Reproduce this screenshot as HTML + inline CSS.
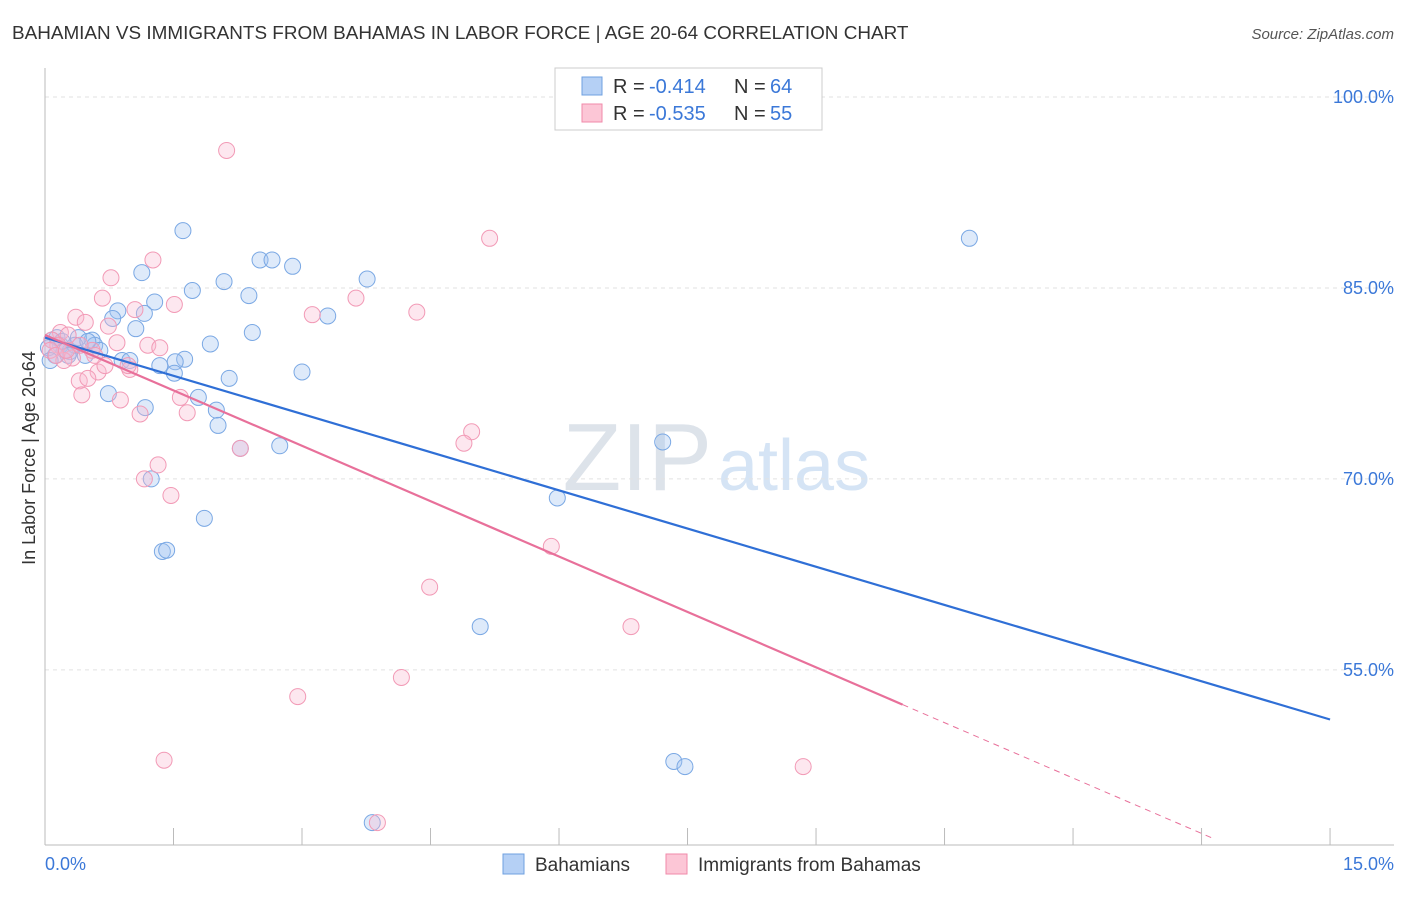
<!DOCTYPE html>
<html><head><meta charset="utf-8"><style>
body{margin:0;background:#fff;font-family:"Liberation Sans",sans-serif;}
svg text{font-family:"Liberation Sans",sans-serif;}
</style></head><body>
<svg id="c" width="1406" height="892" xmlns="http://www.w3.org/2000/svg">
<text x="12" y="39" font-size="18.9" fill="#333">BAHAMIAN VS IMMIGRANTS FROM BAHAMAS IN LABOR FORCE | AGE 20-64 CORRELATION CHART</text>
<text x="1394" y="39" font-size="15" fill="#555" font-style="italic" text-anchor="end">Source: ZipAtlas.com</text>
<text x="712" y="490" font-size="96" fill="#dde3ea" text-anchor="end" font-family="Liberation Serif">ZIP</text>
<text x="718" y="490" font-size="72" fill="#d5e4f5">atlas</text>
<text x="35" y="458" font-size="18" fill="#333" text-anchor="middle" transform="rotate(-90 35 458)">In Labor Force | Age 20-64</text>
<g id="grid"></g><g id="pts"></g><g id="lines"></g>
<g>
<rect x="555" y="68" width="267" height="62" fill="#fff" stroke="#ccc"/>
<rect x="582" y="77" width="20" height="18" fill="#b5d0f5" stroke="#6fa0e0"/>
<rect x="582" y="104" width="20" height="18" fill="#fcc6d6" stroke="#f08aaa"/>
<text x="613" y="93" font-size="20" fill="#333">R =</text>
<text x="649" y="93" font-size="20" fill="#3b78d8">-0.414</text>
<text x="734" y="93" font-size="20" fill="#333">N =</text>
<text x="770" y="93" font-size="20" fill="#3b78d8">64</text>
<text x="613" y="120" font-size="20" fill="#333">R =</text>
<text x="649" y="120" font-size="20" fill="#3b78d8">-0.535</text>
<text x="734" y="120" font-size="20" fill="#333">N =</text>
<text x="770" y="120" font-size="20" fill="#3b78d8">55</text>
</g>
<g>
<rect x="503" y="854" width="21" height="20" fill="#b5d0f5" stroke="#6fa0e0"/>
<text x="535" y="871" font-size="19" fill="#333">Bahamians</text>
<rect x="666" y="854" width="21" height="20" fill="#fcc6d6" stroke="#f08aaa"/>
<text x="698" y="871" font-size="19" fill="#333">Immigrants from Bahamas</text>
</g>
</svg>
<script>
const yTicks=[100,85,70,55];
const yTickLabels=["100.0%","85.0%","70.0%","55.0%"];
const xTickLabels=["0.0%","15.0%"];
const blueX=[1.61,1.13,2.51,2.65,2.89,3.76,2.09,1.72,1.28,2.38,0.85,1.16,0.79,1.06,2.42,3.30,0.55,0.39,0.58,1.93,1.63,1.34,1.52,0.90,1.51,2.15,3.00,0.74,1.79,1.17,2.00,2.02,2.74,2.28,7.21,5.98,1.24,1.86,1.37,1.42,5.08,7.34,7.47,3.82,10.79,0.08,0.18,0.23,0.12,0.04,0.29,0.47,0.64,0.99,0.06,0.14,0.35,0.50,0.20,0.27];
const blueY=[89.5,86.2,87.2,87.2,86.7,85.7,85.5,84.8,83.9,84.4,83.2,83.0,82.6,81.8,81.5,82.8,80.9,81.1,80.5,80.6,79.4,78.9,79.2,79.3,78.3,77.9,78.4,76.7,76.4,75.6,75.4,74.2,72.6,72.4,72.9,68.5,70.0,66.9,64.3,64.4,58.4,47.8,47.4,43.0,88.9,80.9,80.5,80.1,79.7,80.3,80.0,79.7,80.1,79.3,79.3,81.1,80.5,80.8,80.8,79.7];
const pinkX=[2.12,5.19,1.26,0.77,1.51,0.67,3.12,3.63,4.34,1.05,0.36,0.47,0.74,0.18,0.27,0.84,1.20,1.34,0.08,0.15,0.32,0.22,0.62,0.99,0.40,0.50,0.43,0.88,1.58,1.66,1.11,1.32,1.16,1.47,2.28,4.98,4.89,5.91,4.49,6.84,4.16,2.95,1.39,8.85,3.88,0.06,0.13,0.25,0.55,0.70,0.97,0.58,0.41];
const pinkY=[95.8,88.9,87.2,85.8,83.7,84.2,82.9,84.2,83.1,83.3,82.7,82.3,82.0,81.5,81.3,80.7,80.5,80.3,80.9,80.5,79.5,79.3,78.4,78.6,77.7,77.9,76.6,76.2,76.4,75.2,75.1,71.1,70.0,68.7,72.4,73.7,72.8,64.7,61.5,58.4,54.4,52.9,47.9,47.4,43.0,80.1,79.7,80.1,80.1,78.9,78.9,79.7,80.5];
const blueTrend=[81.1,51.1];
const pinkTrend=[81.3,37.8];
const NS="http://www.w3.org/2000/svg";
const X=v=>45+v*85.67, Y=v=>97+(100-v)*12.73;
function mk(t,a,p){const e=document.createElementNS(NS,t);for(const k in a)e.setAttribute(k,a[k]);document.getElementById(p).appendChild(e);return e;}
yTicks.forEach((t,i)=>{
 const l=mk('line',{x1:45,x2:1394,y1:Y(t),y2:Y(t),stroke:'#e2e2e2','stroke-dasharray':'4,4'},'grid');
 
 
 const tx=mk('text',{x:1394,y:Y(t)+6,'font-size':18,fill:'#3b78d8','text-anchor':'end'},'grid');
 tx.textContent=yTickLabels[i];
 
 
});
const ax=mk('line',{x1:45,x2:45,y1:68,y2:845,stroke:'#bbb'},'grid');


const bx=mk('line',{x1:45,x2:1394,y1:845,y2:845,stroke:'#bbb'},'grid');


for(let i=0;i<=10;i++){
 const t=mk('line',{x1:X(i*1.5),x2:X(i*1.5),y1:828,y2:845,stroke:'#bbb'},'grid');
 
 
}
[[0,'start',45],[15,'end',1394]].forEach((d,i)=>{
 const tx=mk('text',{x:d[2],y:870,'font-size':18,fill:'#3b78d8','text-anchor':d[1]},'grid');
 tx.textContent=xTickLabels[i];
 
 
});
blueX.forEach((v,i)=>{
 const c=mk('circle',{cx:X(v),cy:Y(blueY[i]),r:8,fill:'rgba(160,195,240,0.35)',stroke:'#7aa8e4','stroke-width':1},'pts');
 
 
});
pinkX.forEach((v,i)=>{
 const c=mk('circle',{cx:X(v),cy:Y(pinkY[i]),r:8,fill:'rgba(248,185,208,0.35)',stroke:'#f29ab6','stroke-width':1},'pts');
 
 
});
const bl=mk('line',{x1:X(0),y1:Y(blueTrend[0]),x2:X(15),y2:Y(blueTrend[1]),stroke:'#2f6fd6','stroke-width':2.2},'lines');


const pe=10.01, pyAt=x=>pinkTrend[0]+(pinkTrend[1]-pinkTrend[0])*x/15;
const pl=mk('line',{x1:X(0),y1:Y(pinkTrend[0]),x2:X(pe),y2:Y(pyAt(pe)),stroke:'#e8709a','stroke-width':2.2},'lines');


const pd=mk('line',{x1:X(pe),y1:Y(pyAt(pe)),x2:X(13.65),y2:Y(pyAt(13.65)),stroke:'#e8709a','stroke-width':1,'stroke-dasharray':'6,5'},'lines');


</script>
</body></html>
